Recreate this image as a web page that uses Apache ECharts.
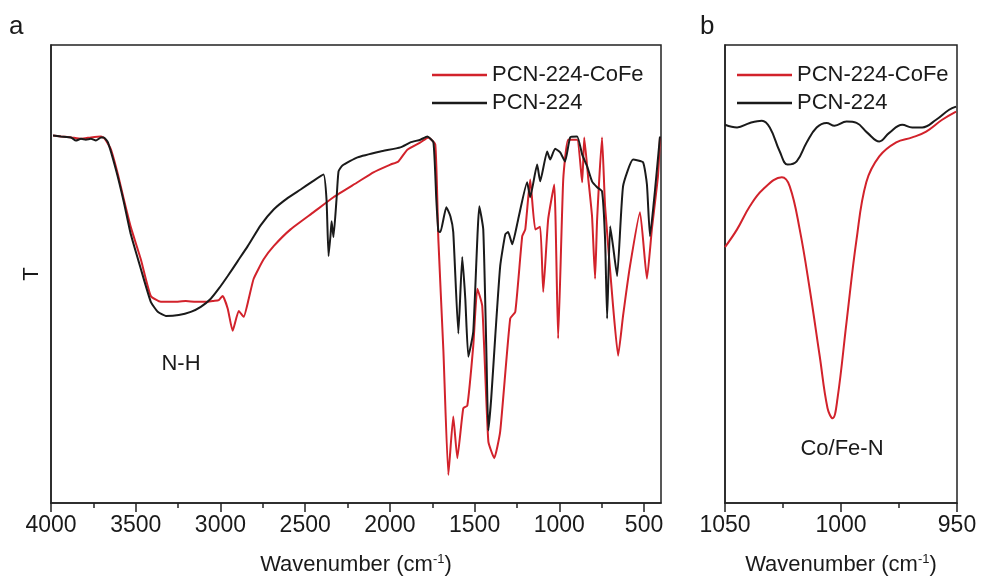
<!DOCTYPE html>
<html>
<head>
<meta charset="utf-8">
<script src="https://cdn.jsdelivr.net/npm/echarts@6/dist/echarts.min.js"></script>
<style>
  html, body { margin: 0; padding: 0; background: #fff; }
  #chart { width: 985px; height: 581px; }
</style>
</head>
<body>
<div id="chart"></div>
<script>
// panel a: full FTIR range, [wavenumber, T]
var cofeA = [
  [3988, 80.0], [3941, 79.8], [3882, 79.6], [3823, 79.3], [3764, 79.6], [3705, 79.8],
  [3682, 79.3], [3646, 76.9], [3605, 71.4], [3570, 65.9], [3529, 59.8], [3470, 52.7],
  [3411, 44.6], [3352, 43.3], [3275, 43.3], [3205, 43.5], [3146, 43.3], [3075, 43.3],
  [3040, 43.5], [3010, 43.7], [2987, 44.6], [2957, 41.8], [2928, 36.9], [2892, 41.3],
  [2863, 40.0], [2833, 44.0], [2804, 48.4], [2745, 52.7], [2686, 55.6], [2586, 59.3],
  [2450, 63.1], [2333, 66.4], [2191, 69.7], [2097, 71.9], [1997, 73.6], [1950, 74.3],
  [1897, 76.9], [1820, 78.5], [1773, 79.6], [1732, 78.0], [1714, 57.1], [1684, 32.3],
  [1655, 5.1], [1626, 18.0], [1602, 8.8], [1567, 19.8], [1543, 20.4], [1508, 33.6],
  [1484, 46.2], [1455, 42.4], [1419, 12.5], [1384, 8.8], [1349, 14.7], [1290, 39.6],
  [1260, 41.1], [1219, 57.8], [1201, 59.3], [1172, 70.3], [1142, 59.3], [1113, 59.9],
  [1095, 45.5], [1066, 61.5], [1030, 69.2], [1007, 35.2], [977, 70.3], [948, 79.1],
  [895, 79.1], [865, 69.7], [853, 79.6], [830, 70.8], [807, 62.2], [789, 48.4],
  [777, 61.5], [748, 79.6], [730, 64.4], [683, 42.4], [653, 31.4], [624, 40.2],
  [583, 51.2], [524, 63.1], [483, 48.4], [454, 59.3], [418, 71.0], [406, 79.6]
];
var pcnA = [
  [3988, 80.0], [3941, 79.8], [3882, 79.6], [3853, 78.9], [3823, 79.3], [3794, 79.1],
  [3764, 79.3], [3735, 78.9], [3705, 79.6], [3688, 79.6], [3664, 78.5], [3617, 72.5],
  [3570, 65.3], [3529, 58.2], [3470, 50.6], [3411, 43.3], [3370, 41.1], [3322, 40.2],
  [3246, 40.4], [3175, 41.1], [3116, 42.2], [3057, 44.0], [3010, 46.2], [2957, 49.0],
  [2898, 52.3], [2839, 55.6], [2763, 60.2], [2686, 63.7], [2604, 66.2], [2527, 68.1],
  [2456, 69.9], [2392, 71.4], [2374, 65.9], [2362, 53.4], [2350, 58.2], [2344, 61.1],
  [2333, 57.6], [2315, 65.9], [2303, 72.1], [2280, 73.4], [2191, 75.2], [2056, 76.5],
  [1938, 77.4], [1879, 78.5], [1820, 79.1], [1779, 79.8], [1743, 78.5], [1726, 65.9],
  [1714, 58.9], [1702, 58.7], [1667, 64.2], [1643, 62.2], [1626, 58.7], [1596, 36.3],
  [1573, 53.2], [1555, 44.0], [1537, 31.2], [1508, 36.7], [1472, 64.4], [1449, 59.3],
  [1431, 33.0], [1419, 14.9], [1402, 22.0], [1378, 35.8], [1349, 51.2], [1319, 58.2],
  [1302, 58.7], [1278, 56.0], [1243, 61.5], [1190, 69.7], [1172, 66.4], [1131, 73.6],
  [1113, 69.9], [1072, 76.5], [1054, 74.7], [1025, 77.1], [995, 76.3], [966, 74.3],
  [936, 79.6], [895, 79.8], [865, 75.8], [836, 73.2], [807, 69.9], [777, 68.6],
  [748, 67.7], [730, 57.1], [718, 39.6], [700, 60.0], [683, 55.6], [659, 49.0],
  [624, 68.8], [565, 74.7], [506, 74.1], [483, 69.2], [465, 57.8], [435, 68.1],
  [406, 79.8]
];

// panel b: 1050-950 cm-1 zoom
var cofeB = [
  [1050.0, 55.4], [1044.8, 59.3], [1039.3, 64.4], [1033.7, 68.1], [1025.5, 70.8],
  [1022.1, 68.8], [1017.8, 59.3], [1013.5, 46.2], [1009.2, 31.4], [1005.8, 19.8],
  [1003.6, 17.6], [1001.5, 22.0], [997.6, 38.9], [993.3, 57.1], [989.1, 69.7],
  [983.5, 75.4], [976.2, 78.5], [969.3, 79.6], [963.3, 80.9], [956.4, 83.5], [950.4, 85.3]
];
var pcnB = [
  [1050.0, 82.4], [1044.8, 81.8], [1039.3, 82.8], [1034.1, 83.3], [1030.7, 81.8],
  [1026.4, 76.5], [1023.0, 73.6], [1019.1, 74.3], [1014.8, 78.5], [1010.5, 81.8],
  [1006.2, 82.8], [1002.8, 82.2], [997.6, 83.1], [993.3, 82.8], [988.6, 80.6],
  [983.5, 78.7], [979.2, 80.6], [973.6, 82.4], [969.3, 81.8], [965.0, 81.8],
  [959.0, 83.5], [953.4, 85.7], [950.4, 86.4]
];

var majorTicksA = [500, 1000, 1500, 2000, 2500, 3000, 3500, 4000];
var minorTicksA = [750, 1250, 1750, 2250, 2750, 3250, 3750];

var names = ["PCN-224-CoFe", "PCN-224"];
var RED = "#d2222b";
var BLACK = "#1a1a1a";
var FONT = "Liberation Sans";

var chart = echarts.init(document.getElementById("chart"));

var axisName = {
  fontSize: 22,
  color: BLACK,
  fontFamily: FONT,
  rich: {
    sup: { fontSize: 13, verticalAlign: "top", lineHeight: 24, fontFamily: FONT, color: BLACK }
  }
};

var plain = function (v) { return String(v); };

function legendAt(left) {
  return {
    left: left,
    top: 59,
    orient: "vertical",
    data: names,
    icon: "rect",
    itemWidth: 55,
    itemHeight: 2.5,
    itemGap: 6,
    selectedMode: false,
    textStyle: { fontSize: 22, color: BLACK, fontFamily: FONT }
  };
}

chart.setOption({
  animation: false,
  backgroundColor: "#fff",
  legend: [legendAt(427), legendAt(732)],
  grid: [
    { left: 51, right: 324, top: 45, bottom: 76, show: true, borderColor: "#222", borderWidth: 1.5 },
    { left: 725, right: 28, top: 45, bottom: 76, show: true, borderColor: "#222", borderWidth: 1.5 }
  ],
  xAxis: [
    {
      type: "value",
      gridIndex: 0,
      position: "bottom",
      min: 400,
      max: 4000,
      inverse: true,
      name: "Wavenumber (cm{sup|-1})",
      nameLocation: "middle",
      nameGap: 50,
      nameTextStyle: axisName,
      axisLine: { onZero: false, lineStyle: { color: "#222", width: 1.5 } },
      axisTick: { customValues: majorTicksA, length: 9, lineStyle: { color: "#222", width: 1.5 } },
      axisLabel: { customValues: majorTicksA, formatter: plain, margin: 11, fontSize: 23, color: BLACK, fontFamily: FONT },
      splitLine: { show: false }
    },
    {
      // minor ticks only
      type: "value",
      gridIndex: 0,
      position: "bottom",
      min: 400,
      max: 4000,
      inverse: true,
      axisLine: { show: false, onZero: false },
      axisTick: { customValues: minorTicksA, length: 5, lineStyle: { color: "#222", width: 1.5 } },
      axisLabel: { show: false },
      splitLine: { show: false }
    },
    {
      type: "value",
      gridIndex: 1,
      position: "bottom",
      min: 950,
      max: 1050,
      interval: 50,
      inverse: true,
      name: "Wavenumber (cm{sup|-1})",
      nameLocation: "middle",
      nameGap: 50,
      nameTextStyle: axisName,
      axisLine: { onZero: false, lineStyle: { color: "#222", width: 1.5 } },
      axisTick: { length: 9, lineStyle: { color: "#222", width: 1.5 } },
      minorTick: { show: true, splitNumber: 2, length: 5, lineStyle: { color: "#222", width: 1.5 } },
      axisLabel: { formatter: plain, margin: 11, fontSize: 23, color: BLACK, fontFamily: FONT },
      splitLine: { show: false }
    }
  ],
  yAxis: [
    {
      type: "value",
      gridIndex: 0,
      min: -1.1,
      max: 100,
      name: "T",
      nameLocation: "middle",
      nameGap: 8,
      nameRotate: 90,
      nameTextStyle: { fontSize: 22, color: BLACK, fontFamily: FONT },
      axisLine: { show: true, onZero: false, lineStyle: { color: "#222", width: 1.5 } },
      axisTick: { show: false },
      axisLabel: { show: false },
      splitLine: { show: false }
    },
    {
      type: "value",
      gridIndex: 1,
      min: -1.1,
      max: 100,
      axisLine: { show: true, onZero: false, lineStyle: { color: "#222", width: 1.5 } },
      axisTick: { show: false },
      axisLabel: { show: false },
      splitLine: { show: false }
    }
  ],
  graphic: [
    { type: "text", left: 9, top: 14, style: { text: "a", fontSize: 26, fill: BLACK, fontFamily: FONT } },
    { type: "text", left: 700, top: 14, style: { text: "b", fontSize: 26, fill: BLACK, fontFamily: FONT } },
    { type: "text", x: 181, y: 364, style: { text: "N-H", fontSize: 22, fill: BLACK, fontFamily: FONT, align: "center", verticalAlign: "middle" } },
    { type: "text", x: 842, y: 449, style: { text: "Co/Fe-N", fontSize: 22, fill: BLACK, fontFamily: FONT, align: "center", verticalAlign: "middle" } }
  ],
  series: [
    { name: names[0], type: "line", xAxisIndex: 0, yAxisIndex: 0, data: cofeA, showSymbol: false, smooth: 0.15, color: RED, lineStyle: { width: 2 } },
    { name: names[1], type: "line", xAxisIndex: 0, yAxisIndex: 0, data: pcnA, showSymbol: false, smooth: 0.15, color: BLACK, lineStyle: { width: 2 } },
    { name: names[0], type: "line", xAxisIndex: 2, yAxisIndex: 1, data: cofeB, showSymbol: false, smooth: 0.4, color: RED, lineStyle: { width: 2 } },
    { name: names[1], type: "line", xAxisIndex: 2, yAxisIndex: 1, data: pcnB, showSymbol: false, smooth: 0.4, color: BLACK, lineStyle: { width: 2 } }
  ]
});
</script>
</body>
</html>
